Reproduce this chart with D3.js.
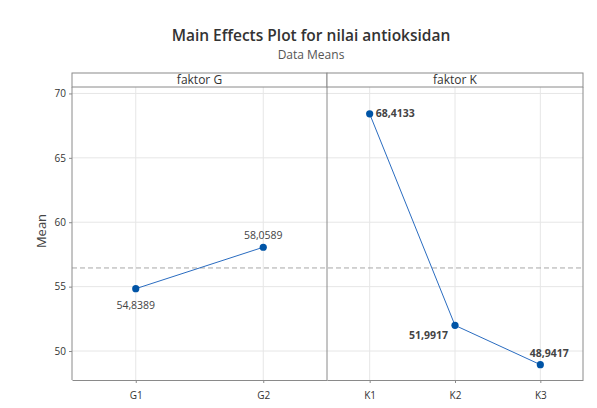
<!DOCTYPE html>
<html><head><meta charset="utf-8">
<script src="https://cdn.jsdelivr.net/npm/d3@7"></script>
<style>body{margin:0;background:#fff}svg{display:block}text{font-family:"Open Sans","Noto Sans",sans-serif}</style>
</head><body><svg id="c" width="597" height="408"></svg>
<script>
const factorNames = ["faktor G", "faktor K"];
const levelsG = ["G1", "G2"];
const meansG = [54.8389, 58.0589];
const levelsK = ["K1", "K2", "K3"];
const meansK = [68.4133, 51.9917, 48.9417];
const labelsG = ["54,8389", "58,0589"];
const labelsK = ["68,4133", "51,9917", "48,9417"];
const yTicks = [50, 55, 60, 65, 70];
const overallMean = 56.4489;

(function () {
const svg = d3.select("#c");
const plotTop = 87, plotBottom = 380, stripTop = 73;
const panels = [
  {name: factorNames[0], levels: levelsG, means: meansG, labels: labelsG, x0: 72, x1: 327,
   pos: ["below", "above"], weight: 500},
  {name: factorNames[1], levels: levelsK, means: meansK, labels: labelsK, x0: 327, x1: 583,
   pos: ["right", "left", "above"], weight: 700}
];
const y = d3.scaleLinear().domain([47.75, 70.5]).range([plotBottom, plotTop]);

svg.append("text").attr("x", 311).attr("y", 41).attr("text-anchor", "middle")
  .attr("font-size", 15.5).attr("font-weight", 600).attr("fill", "#333").text("Main Effects Plot for nilai antioksidan");
svg.append("text").attr("x", 311).attr("y", 59).attr("text-anchor", "middle")
  .attr("font-size", 12).attr("fill", "#555").text("Data Means");

panels.forEach(p => {
  svg.append("g").selectAll("line").data(yTicks).join("line")
    .attr("x1", p.x0).attr("x2", p.x1).attr("y1", d => y(d)).attr("y2", d => y(d))
    .attr("stroke", "#e6e6e6").attr("stroke-width", 1);
});

panels.forEach(p => {
  const x = d3.scalePoint().domain(p.levels).range([p.x0, p.x1]).padding(0.5);
  p.x = x;
  svg.append("g").selectAll("line").data(p.levels).join("line")
    .attr("x1", d => x(d)).attr("x2", d => x(d)).attr("y1", plotTop).attr("y2", plotBottom)
    .attr("stroke", "#e6e6e6");
});

svg.append("line").attr("x1", 72).attr("x2", 583).attr("y1", y(overallMean)).attr("y2", y(overallMean))
  .attr("stroke", "#a8a8a8").attr("stroke-dasharray", "5,3").attr("stroke-width", 1);

panels.forEach(p => {
  const x = p.x;
  const pts = p.levels.map((l, i) => [x(l), y(p.means[i])]);
  svg.append("path").attr("d", d3.line()(pts)).attr("fill", "none").attr("stroke", "#2a6cc0").attr("stroke-width", 1);
  svg.append("g").selectAll("circle").data(pts).join("circle")
    .attr("cx", d => d[0]).attr("cy", d => d[1]).attr("r", 3.6).attr("fill", "#0054a6");
  p.levels.forEach((l, i) => {
    const [px, py] = pts[i];
    const t = svg.append("text").attr("font-size", 10.5).attr("font-weight", p.weight).attr("fill", "#444").text(p.labels[i]);
    const pos = p.pos[i];
    if (pos === "below") t.attr("x", px).attr("y", py + 20).attr("text-anchor", "middle");
    else if (pos === "above") t.attr("x", px + (p.x0 > 300 ? 9 : 0)).attr("y", py - 8).attr("text-anchor", "middle");
    else if (pos === "right") t.attr("x", px + 6).attr("y", py + 3.5).attr("text-anchor", "start");
    else t.attr("x", px - 7).attr("y", py + 14).attr("text-anchor", "end");
  });
  svg.append("rect").attr("x", p.x0).attr("y", stripTop).attr("width", p.x1 - p.x0).attr("height", plotTop - stripTop)
    .attr("fill", "#fff").attr("stroke", "#8a8a8a");
  svg.append("text").attr("x", (p.x0 + p.x1) / 2).attr("y", plotTop - 3).attr("text-anchor", "middle")
    .attr("font-size", 12).attr("fill", "#333").text(p.name);
  const ax = svg.append("g").attr("transform", `translate(0,${plotBottom})`)
    .call(d3.axisBottom(x).tickSize(3).tickSizeOuter(0));
  ax.select(".domain").attr("stroke", "#8a8a8a");
  ax.selectAll(".tick line").attr("stroke", "#8a8a8a");
  ax.selectAll("text").attr("font-size", 10).attr("fill", "#333").attr("dy", "1.25em")
    .style("font-family", '"Open Sans","Noto Sans",sans-serif');
});

svg.append("line").attr("x1", 327).attr("x2", 327).attr("y1", plotTop).attr("y2", plotBottom).attr("stroke", "#8a8a8a");
svg.append("line").attr("x1", 583).attr("x2", 583).attr("y1", plotTop).attr("y2", plotBottom).attr("stroke", "#8a8a8a");

const ay = svg.append("g").attr("transform", "translate(72,0)")
  .call(d3.axisLeft(y).tickValues(yTicks).tickSize(3).tickSizeOuter(0));
ay.select(".domain").attr("stroke", "#8a8a8a").attr("d", `M0,${plotTop}V${plotBottom}`);
ay.selectAll(".tick line").attr("stroke", "#8a8a8a");
ay.selectAll("text").attr("font-size", 10).attr("fill", "#333")
  .style("font-family", '"Open Sans","Noto Sans",sans-serif');

svg.append("text").attr("transform", "translate(46,231) rotate(-90)").attr("text-anchor", "middle")
  .attr("font-size", 13).attr("fill", "#444").text("Mean");
})();
</script></body></html>
